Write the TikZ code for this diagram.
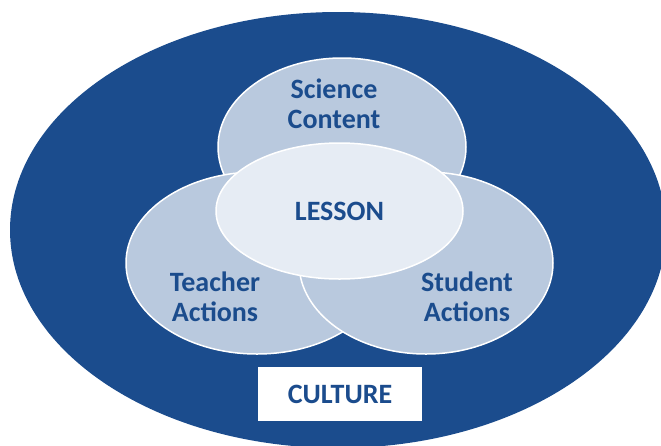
\documentclass[tikz,border=0pt]{standalone}
\usepackage{fontspec}
\setmainfont{Carlito}
\usetikzlibrary{shapes.geometric,positioning}
\definecolor{cultureblue}{RGB}{27,76,141}
\definecolor{partfill}{RGB}{185,201,222}
\definecolor{lessonfill}{RGB}{230,236,244}

\begin{document}
\begin{tikzpicture}[x=1pt,y=-1pt,
  every node/.append style={text=cultureblue,align=center},
  every ellipse node/.append style={inner sep=0pt}]
  \tikzstyle{part} = [ellipse,draw=white,line width=1.5pt,fill=partfill]
  \tikzstyle{word} = [font=\bfseries\fontsize{28}{30}\selectfont]
  \useasboundingbox (0,0) rectangle (661,445);
  \clip (0,0) rectangle (661,445);
  \node (culture) [ellipse,fill=cultureblue,minimum width=656pt,minimum height=436pt] at (338,230) {};
  \node (science) [part,minimum width=248pt,minimum height=178pt] at (342,147) {};
  \node (teacher) [part,minimum width=262pt,minimum height=182pt] at (257,263) {};
  \node (student) [part,minimum width=254pt,minimum height=182pt] at (426,263) {};
  \node (lesson) [part,fill=lessonfill,minimum width=247pt,minimum height=136pt] at (339.5,211) {};
  \node (sciencetext) [word] at (334,104) {Science\\Content};
  \node (teachertext) [word] at (215,297) {Teacher\\Actions};
  \node (studenttext) [word] at (467,297) {Student\\Actions};
  \node (lessontext) [word] at (lesson) {LESSON};
  \node (culturebox) [fill=white,minimum width=164pt,minimum height=54pt,inner sep=0pt] at (340,394) {};
  \node (culturetext) [word] at (culturebox) {CULTURE};
\end{tikzpicture}
\end{document}
